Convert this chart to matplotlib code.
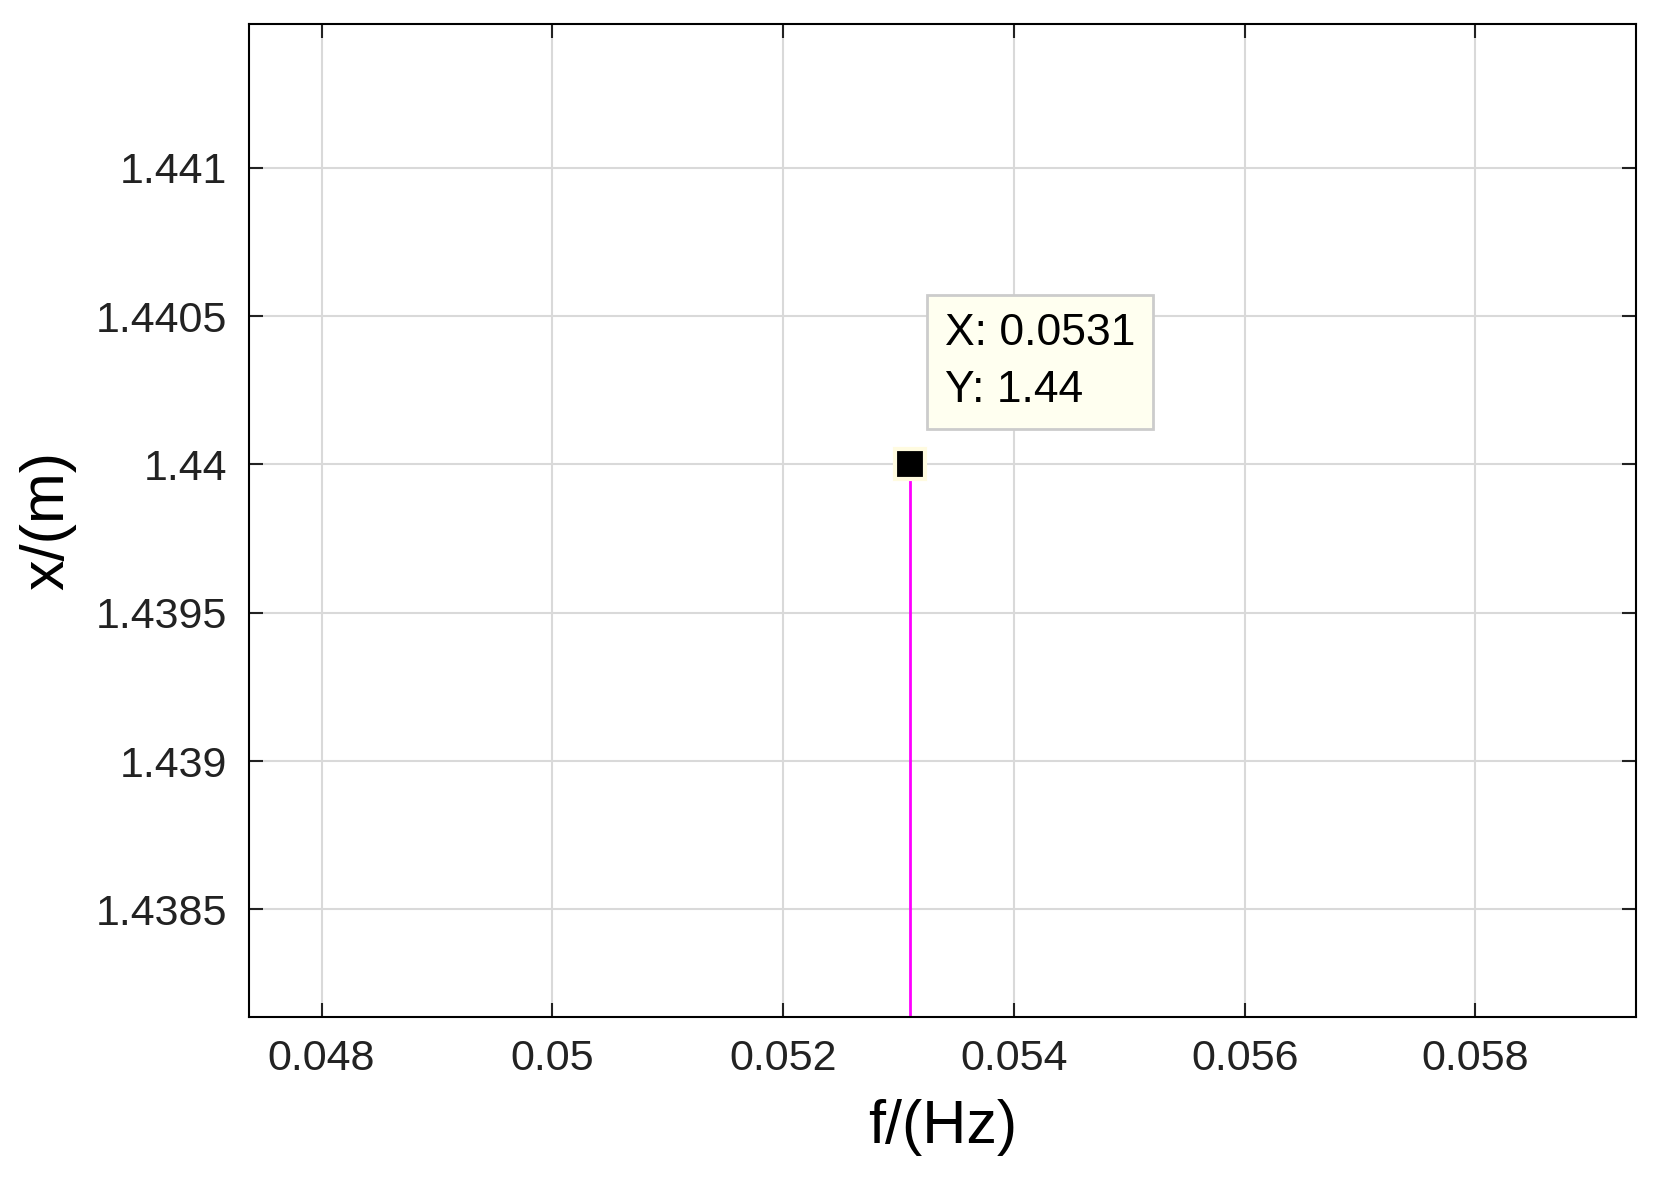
import matplotlib
matplotlib.use("Agg")
import matplotlib.pyplot as plt

plt.rcParams['font.family'] = ['Liberation Sans', 'DejaVu Sans']

# data
freq = [0.0531]
amp = [1.44]
xticks = [0.048, 0.050, 0.052, 0.054, 0.056, 0.058]
xlabels = ['0.048', '0.05', '0.052', '0.054', '0.056', '0.058']
yticks = [1.4385, 1.439, 1.4395, 1.44, 1.4405, 1.441]
ylabels = ['1.4385', '1.439', '1.4395', '1.44', '1.4405', '1.441']

fig = plt.figure(figsize=(16.61, 11.84), dpi=100)
ax = fig.add_axes([0.15, 0.141, 0.835, 0.839])

ax.vlines(freq, 0, amp, color='magenta', lw=2)
ax.plot(freq, amp, 's', color='black', ms=22, mec='#fffbe0', mew=3)

ax.set_xlim(0.047373, 0.059392)
ax.set_ylim(1.438137, 1.441486)
ax.set_xticks(xticks, xlabels)
ax.set_yticks(yticks, ylabels)
ax.tick_params(labelsize=31, length=10, width=1.5, direction='in', top=True, right=True, pad=16, colors='#222222')
for s in ax.spines.values():
    s.set_linewidth(1.5)
ax.grid(True, color='#d9d9d9', lw=1.5)
ax.set_axisbelow(True)

ax.set_xlabel('f/(Hz)', fontsize=44, labelpad=14)
ax.set_ylabel('x/(m)', fontsize=44, labelpad=14)

ax.annotate('X: 0.0531\nY: 1.44', xy=(freq[0], amp[0]), xytext=(0.05340, 1.44018),
            fontsize=32, linespacing=1.5, va='bottom', ha='left',
            bbox=dict(boxstyle='square,pad=0.4', fc='#fffff0', ec='#cccccc', lw=2))

fig.savefig('out.png', dpi=100)
